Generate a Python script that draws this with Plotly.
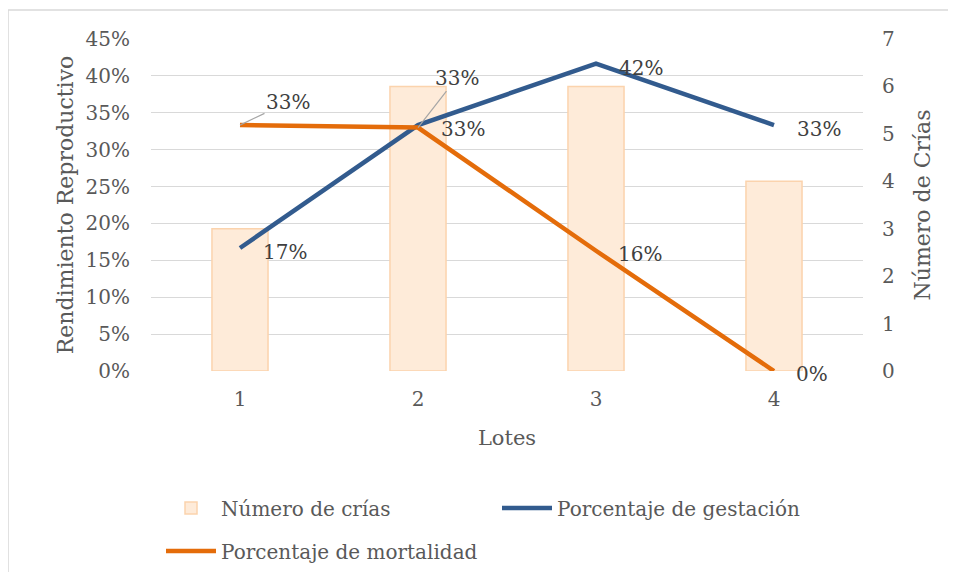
import plotly.graph_objects as go

lotes = ["1", "2", "3", "4"]
num_crias = [3, 6, 6, 4]
pct_gestacion = [0.1667, 0.3333, 0.4167, 0.3333]
pct_mortalidad = [0.3333, 0.330, 0.163, 0.0]

pct_ticks = [0, 0.05, 0.10, 0.15, 0.20, 0.25, 0.30, 0.35, 0.40, 0.45]
crias_ticks = [0, 1, 2, 3, 4, 5, 6, 7]

FONT = "DejaVu Serif, serif"
TICK_COL = "#595959"
LABEL_COL = "#404040"
GRID_COL = "#D9D9D9"
BLUE = "#325B8E"
ORANGE = "#E46C0A"

W, H = 940, 564

fig = go.Figure()

fig.add_trace(go.Bar(
    x=lotes, y=num_crias, name="Número de crías", yaxis="y",
    width=0.315,
    marker=dict(color="#FEEBD9", line=dict(color="#FBD3AD", width=1.5)),
    legend="legend", hoverinfo="skip",
))
fig.add_trace(go.Scatter(
    x=lotes, y=pct_gestacion, name="Porcentaje de gestación", yaxis="y2",
    mode="lines", line=dict(color=BLUE, width=4.5),
    legend="legend", hoverinfo="skip",
))
fig.add_trace(go.Scatter(
    x=lotes, y=pct_mortalidad, name="Porcentaje de mortalidad", yaxis="y2",
    mode="lines", line=dict(color=ORANGE, width=4.5),
    legend="legend2", hoverinfo="skip",
))

def fmt(v):
    return f"{round(v * 100)}%"

annotations = []
for i, v in enumerate(pct_gestacion):
    annotations.append(dict(
        x=i, y=v, xref="x", yref="y2", text=fmt(v), showarrow=False,
        xanchor="left", yanchor="middle", xshift=21, yshift=-4,
        font=dict(family=FONT, size=20, color=LABEL_COL),
    ))

# mortality labels: first two are pulled out with leader lines
leader_offsets = {0: (48, -23), 1: (39, -50)}
for i, v in enumerate(pct_mortalidad):
    if i in leader_offsets:
        ax, ay = leader_offsets[i]
        annotations.append(dict(
            x=i, y=v, xref="x", yref="y2", text=fmt(v), showarrow=True,
            arrowhead=0, arrowwidth=1.2, arrowcolor="#A6A6A6", ax=ax, ay=ay,
            font=dict(family=FONT, size=20, color=LABEL_COL),
        ))
    else:
        annotations.append(dict(
            x=i, y=v, xref="x", yref="y2", text=fmt(v), showarrow=False,
            xanchor="left", yanchor="middle", xshift=20, yshift=-3,
            font=dict(family=FONT, size=20, color=LABEL_COL),
        ))

fig.update_layout(
    width=W, height=H,
    margin=dict(l=143, r=W - 143 - 712, t=31, b=H - 31 - 332, autoexpand=False),
    paper_bgcolor="white", plot_bgcolor="white",
    font=dict(family=FONT, color=TICK_COL, size=20),
    showlegend=True,
    barmode="overlay",
    xaxis=dict(
        type="category", range=[-0.5, 3.5], automargin=False,
        showgrid=False, zeroline=False, showline=False,
        ticks="", ticklabelstandoff=14,
        tickfont=dict(family=FONT, size=20, color=TICK_COL),
        title=dict(text="Lotes", standoff=20,
                   font=dict(family=FONT, size=21, color=TICK_COL)),
    ),
    yaxis=dict(
        side="right", range=[0, 7], tickvals=crias_ticks, automargin=False,
        showgrid=False, zeroline=False, showline=False,
        ticks="", ticklabelstandoff=18,
        tickfont=dict(family=FONT, size=20, color=TICK_COL),
        title=dict(text="Número de Crías", standoff=20,
                   font=dict(family=FONT, size=22, color=TICK_COL)),
    ),
    yaxis2=dict(
        overlaying="y", side="left", range=[0, 0.45], tickvals=pct_ticks,
        tickformat=".0%", automargin=False,
        showgrid=True, gridcolor=GRID_COL, gridwidth=1.3,
        zeroline=False, showline=False,
        ticks="", ticklabelstandoff=20,
        tickfont=dict(family=FONT, size=20, color=TICK_COL),
        title=dict(text="Rendimiento Reproductivo", standoff=5,
                   font=dict(family=FONT, size=22, color=TICK_COL)),
    ),
    legend=dict(
        orientation="h", xref="container", yref="container",
        x=153 / W, xanchor="left", y=1 - 500 / H, yanchor="middle",
        entrywidth=271, entrywidthmode="pixels", itemwidth=50,
        font=dict(family=FONT, size=20, color=TICK_COL),
        bgcolor="rgba(0,0,0,0)", traceorder="normal",
    ),
    legend2=dict(
        orientation="h", xref="container", yref="container",
        x=153 / W, xanchor="left", y=1 - 543 / H, yanchor="middle",
        itemwidth=50,
        font=dict(family=FONT, size=20, color=TICK_COL),
        bgcolor="rgba(0,0,0,0)",
    ),
    annotations=annotations,
    shapes=[
        dict(type="line", xref="paper", yref="paper",
             x0=-0.2008, x1=1.3, y0=1.0873, y1=1.0873,
             line=dict(color=GRID_COL, width=1.5), layer="below"),
        dict(type="line", xref="paper", yref="paper",
             x0=-0.2008, x1=-0.2008, y0=-1.2, y1=1.0873,
             line=dict(color=GRID_COL, width=1.5), layer="below"),
    ],
)

fig.write_html("out.html")
